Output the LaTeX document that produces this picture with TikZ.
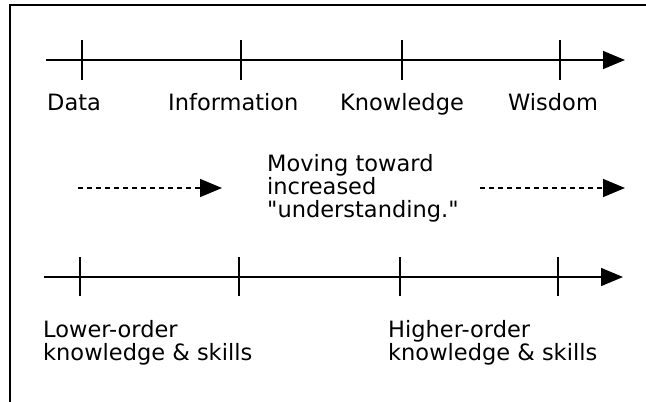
\documentclass[tikz,border=0pt]{standalone}
\usepackage{fontspec}
\setmainfont{DejaVu Sans}
\usetikzlibrary{arrows.meta}
\newcommand\lblfont{\fontsize{22.5}{23}\selectfont}
\begin{document}
\begin{tikzpicture}[x=1pt,y=-1pt,
  axis/.style={line width=1.6pt,-{Triangle[length=22pt,width=18pt]}},
  tickline/.style={line width=1.6pt},
  dasharrow/.style={line width=1.6pt,dash pattern=on 5pt off 4pt,-{Triangle[length=22pt,width=18pt]}},
  frameline/.style={line width=2pt},
  lbl/.style={anchor=base west,inner sep=0pt,font=\lblfont,align=left}]
\useasboundingbox (0,0) rectangle (646,402);
% frame (top and left only)
\coordinate (fbl) at (10,402);
\coordinate (ftl) at (10,5);
\coordinate (ftr) at (646,5);
\draw[frameline] (fbl) -- (ftl) -- (ftr);
% top axis
\coordinate (a1s) at (46,60);
\coordinate (a1e) at (625,60);
\draw[axis] (a1s) -- (a1e);
\foreach \n/\x in {t1/82,t2/241,t3/402,t4/560}{
  \coordinate (\n a) at (\x,40);
  \coordinate (\n b) at (\x,80);
  \draw[tickline] (\n a) -- (\n b);
}
\node[lbl] (data) at (47,110) {Data};
\node[lbl] (info) at (168,110) {Information};
\node[lbl] (know) at (340,110) {Knowledge};
\node[lbl] (wis) at (508,110) {Wisdom};
% middle
\coordinate (d1s) at (78,188);
\coordinate (d1e) at (222,188);
\coordinate (d2s) at (480,188);
\coordinate (d2e) at (625,188);
\draw[dasharrow] (d1s) -- (d1e);
\draw[dasharrow] (d2s) -- (d2e);
\node[lbl] (mid) at (267,217) {Moving toward\\increased\\\textquotedbl understanding.\textquotedbl};
% bottom axis
\coordinate (a2s) at (44,277);
\coordinate (a2e) at (623,277);
\draw[axis] (a2s) -- (a2e);
\foreach \n/\x in {b1/80,b2/239,b3/400,b4/558}{
  \coordinate (\n a) at (\x,257);
  \coordinate (\n b) at (\x,296);
  \draw[tickline] (\n a) -- (\n b);
}
\node[lbl] (low) at (43,360) {Lower-order\\knowledge \& skills};
\node[lbl] (high) at (388,360) {Higher-order\\knowledge \& skills};
\end{tikzpicture}
\end{document}
